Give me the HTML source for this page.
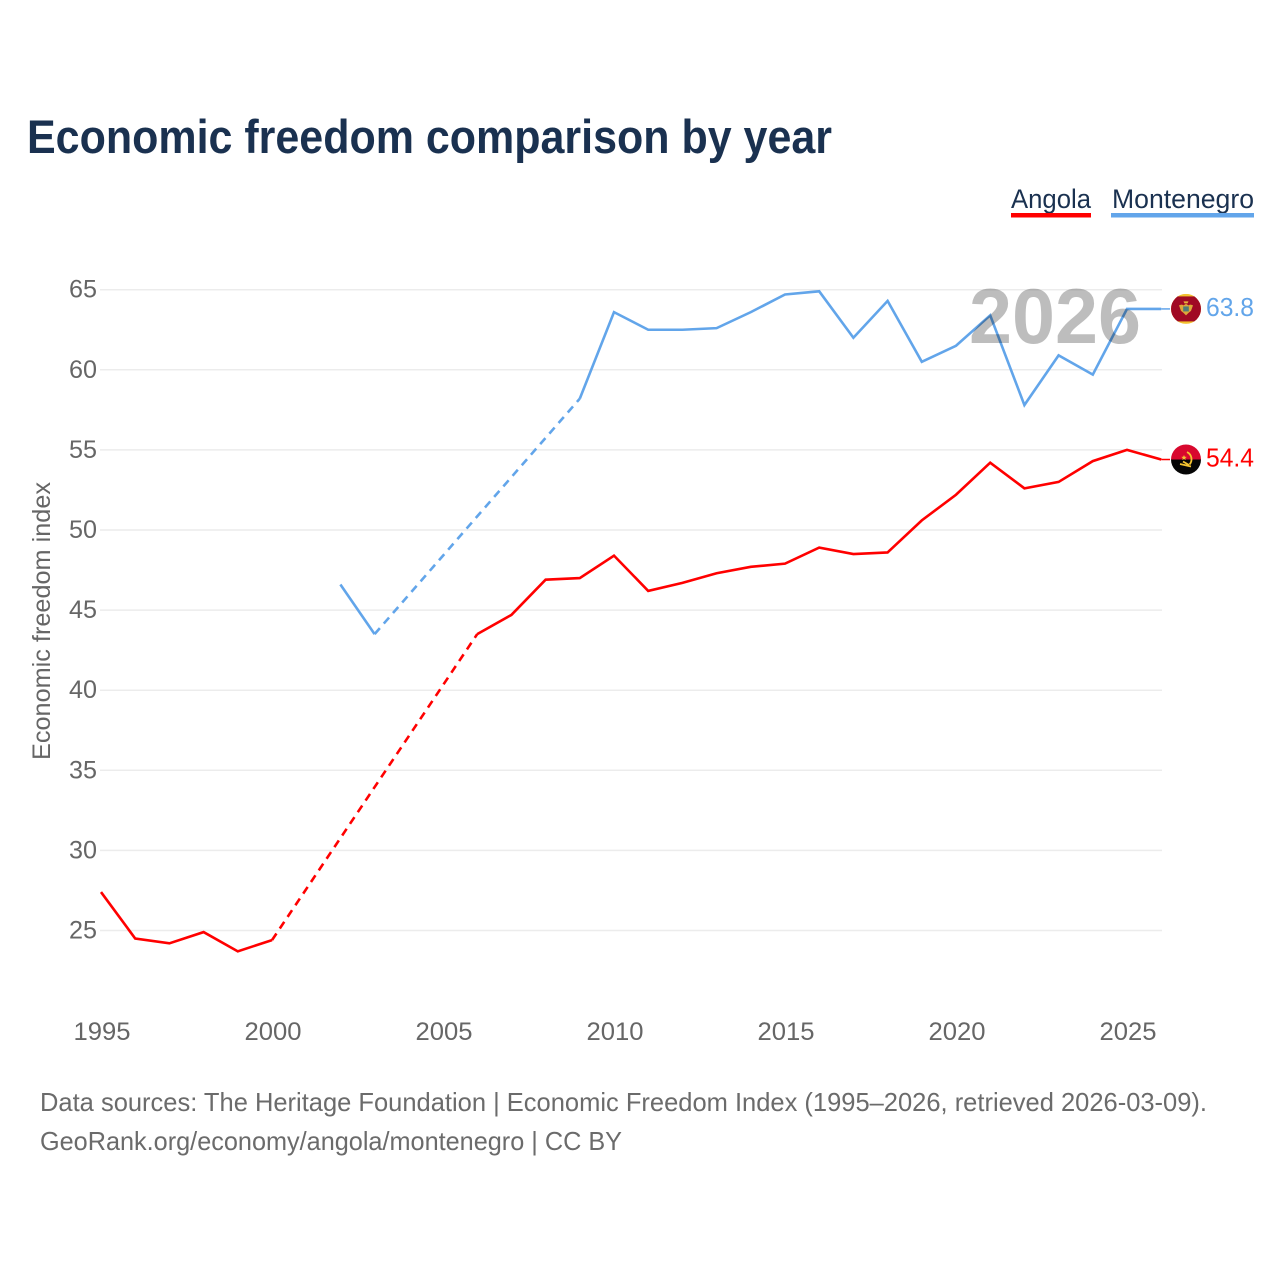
<!DOCTYPE html>
<html lang="en">
<head>
<meta charset="utf-8">
<title>Economic freedom comparison by year</title>
<style>
html,body{margin:0;padding:0;background:#fff;width:1280px;height:1280px;overflow:hidden}
svg{display:block}
text{font-family:"Liberation Sans",sans-serif}
</style>
</head>
<body>
<svg id="chart" xmlns="http://www.w3.org/2000/svg" width="1280" height="1280" viewBox="0 0 1280 1280">
  <rect x="0" y="0" width="1280" height="1280" fill="#ffffff"/>
  <text x="27" y="153" font-size="47" font-weight="700" fill="#1a3150" textLength="805" lengthAdjust="spacingAndGlyphs">Economic freedom comparison by year</text>

  <g>
    <g>
      <text x="1011" y="208" font-size="27" fill="#1a3150" textLength="80" lengthAdjust="spacingAndGlyphs">Angola</text>
      <rect x="1011" y="213" width="80" height="4.5" fill="#ff0000"/>
    </g>
    <g>
      <text x="1112" y="208" font-size="27" fill="#1a3150" textLength="142" lengthAdjust="spacingAndGlyphs">Montenegro</text>
      <rect x="1111" y="213" width="143" height="4.5" fill="#62a5ea"/>
    </g>
  </g>

  <g id="grid"></g>
  <g id="yticks"></g>
  <g id="xticks"></g>
  <text x="0" y="0" transform="translate(50,621) rotate(-90)" text-anchor="middle" font-size="25" fill="#666666" textLength="278" lengthAdjust="spacingAndGlyphs">Economic freedom index</text>

  <g id="series"></g>

  <text id="watermark" x="969" y="343" font-size="78" font-weight="700" fill="#000000" fill-opacity="0.26" textLength="172" lengthAdjust="spacingAndGlyphs">2026</text>

  <g id="flag-montenegro">
    <clipPath id="clip-me"><circle cx="0" cy="0" r="15"/></clipPath>
    <g clip-path="url(#clip-me)">
      <rect x="-15" y="-15" width="30" height="30" fill="#f2c230"/>
      <rect x="-15" y="-12.5" width="30" height="25" fill="#a00a24"/>
    </g>
    <path d="M-2.500-7.500h5l-1 2h-3z" fill="#e5b53a"/>
    <path d="M-7-3.500Q-4-5-2.500-3.500L0-5l2.500 1.500Q4-5 7-3.500L5 2 2.500 4 0 6.500-2.500 4-5 2z" fill="#dca83a"/>
    <rect x="-2.800" y="-2.500" width="5.600" height="5" fill="#4f7d7a"/>
  </g>
  <g id="flag-angola">
    <clipPath id="clip-ao"><circle cx="0" cy="0" r="15"/></clipPath>
    <g clip-path="url(#clip-ao)">
      <rect x="-15" y="-15" width="30" height="15" fill="#d8082e"/>
      <rect x="-15" y="0" width="30" height="15" fill="#050505"/>
    </g>
    <path d="M1-7.500A8 8 0 0 1 3.500 5" fill="none" stroke="#f4c430" stroke-width="1.800"/>
    <path d="M-6 4.500L5 7M-3 2L3 5.500" fill="none" stroke="#f4c430" stroke-width="1.800"/>
    <path d="M-2-4.500l.8 1.800 1.900.1-1.500 1.200.5 1.900-1.700-1-1.700 1 .5-1.900-1.500-1.200 1.900-.1z" fill="#f4c430"/>
  </g>

  <text id="value-montenegro" x="1206" y="315" font-size="26" fill="#62a5ea" textLength="48" lengthAdjust="spacingAndGlyphs"></text>
  <text id="value-angola" x="1206" y="465" font-size="26" fill="#ff0000" textLength="48" lengthAdjust="spacingAndGlyphs"></text>

  <text x="40" y="1111" font-size="26" fill="#6b6b6b" textLength="1167" lengthAdjust="spacingAndGlyphs">Data sources: The Heritage Foundation | Economic Freedom Index (1995–2026, retrieved 2026-03-09).</text>
  <text x="40" y="1150" font-size="26" fill="#6b6b6b" textLength="582" lengthAdjust="spacingAndGlyphs">GeoRank.org/economy/angola/montenegro | CC BY</text>
</svg>

<script>
const years = [1995,1996,1997,1998,1999,2000,2001,2002,2003,2004,2005,2006,2007,2008,2009,2010,2011,2012,2013,2014,2015,2016,2017,2018,2019,2020,2021,2022,2023,2024,2025,2026];
const angola = [27.4,24.5,24.2,24.9,23.7,24.4,null,null,null,null,null,43.5,44.7,46.9,47.0,48.4,46.2,46.7,47.3,47.7,47.9,48.9,48.5,48.6,50.6,52.2,54.2,52.6,53.0,54.3,55.0,54.4];
const montenegro = [null,null,null,null,null,null,null,46.6,43.5,null,null,null,null,null,58.2,63.6,62.5,62.5,62.6,63.6,64.7,64.9,62.0,64.3,60.5,61.5,63.4,57.8,60.9,59.7,63.8,63.8];
const yTickValues = [25,30,35,40,45,50,55,60,65];
const xTickValues = [1995,2000,2005,2010,2015,2020,2025];

const NS = 'http://www.w3.org/2000/svg';
function xScale(year){ return 101 + (year - 1995) * 34.2; }
function yScale(v){ return 930.5 - (v - 25) * 16.02; }

const gridG = document.getElementById('grid');
const yG = document.getElementById('yticks');
yTickValues.forEach(function(v){
  const ln = document.createElementNS(NS,'line');
  
  
  ln.setAttribute('x1', 100);
  ln.setAttribute('x2', 1162);
  ln.setAttribute('y1', yScale(v));
  ln.setAttribute('y2', yScale(v));
  ln.setAttribute('stroke', '#ececec');
  ln.setAttribute('stroke-width', '1.5');
  gridG.appendChild(ln);

  const t = document.createElementNS(NS,'text');
  
  
  t.setAttribute('x', 97);
  t.setAttribute('y', yScale(v) + 8);
  t.setAttribute('text-anchor', 'end');
  t.setAttribute('font-size', '25');
  t.setAttribute('fill', '#666666');
  t.setAttribute('textLength', '28');
  t.setAttribute('lengthAdjust', 'spacingAndGlyphs');
  t.textContent = v;
  yG.appendChild(t);
});

const xG = document.getElementById('xticks');
xTickValues.forEach(function(y){
  const t = document.createElementNS(NS,'text');
  
  
  t.setAttribute('x', xScale(y) + 1);
  t.setAttribute('y', 1040);
  t.setAttribute('text-anchor', 'middle');
  t.setAttribute('font-size', '25');
  t.setAttribute('fill', '#666666');
  t.setAttribute('textLength', '57');
  t.setAttribute('lengthAdjust', 'spacingAndGlyphs');
  t.textContent = y;
  xG.appendChild(t);
});

function drawSeries(name, values, color){
  const seriesG = document.getElementById('series');
  let prevIndex = -1;
  let solid = '';
  values.forEach(function(v, i){
    if (v === null) return;
    const px = xScale(years[i]).toFixed(2) + ' ' + yScale(v).toFixed(2);
    if (prevIndex >= 0 && i - prevIndex > 1) {
      const d = document.createElementNS(NS,'path');
      
      
      d.setAttribute('d', 'M' + xScale(years[prevIndex]).toFixed(2) + ' ' + yScale(values[prevIndex]).toFixed(2) + 'L' + px);
      d.setAttribute('fill', 'none');
      d.setAttribute('stroke', color);
      d.setAttribute('stroke-width', '2.6');
      d.setAttribute('stroke-dasharray', '8 6');
      seriesG.appendChild(d);
      solid += 'M' + px;
    } else {
      solid += (solid === '' ? 'M' : 'L') + px;
    }
    prevIndex = i;
  });
  const p = document.createElementNS(NS,'path');
  
  
  p.setAttribute('d', solid);
  p.setAttribute('fill', 'none');
  p.setAttribute('stroke', color);
  p.setAttribute('stroke-width', '2.6');
  p.setAttribute('stroke-linejoin', 'miter');
  seriesG.appendChild(p);

  const last = values[values.length - 1];
  const c = document.createElementNS(NS,'line');
  
  
  c.setAttribute('x1', xScale(2026));
  c.setAttribute('x2', 1170);
  c.setAttribute('y1', yScale(last));
  c.setAttribute('y2', yScale(last));
  c.setAttribute('stroke', color);
  c.setAttribute('stroke-width', '1.5');
  seriesG.appendChild(c);

  document.getElementById('flag-' + name).setAttribute('transform', 'translate(1186,' + yScale(last).toFixed(2) + ')');
  const label = document.getElementById('value-' + name);
  label.textContent = last.toFixed(1);
  label.setAttribute('y', (yScale(last) + 7).toFixed(2));
}
drawSeries('angola', angola, '#ff0000');
drawSeries('montenegro', montenegro, '#62a5ea');
</script>
</body>
</html>
